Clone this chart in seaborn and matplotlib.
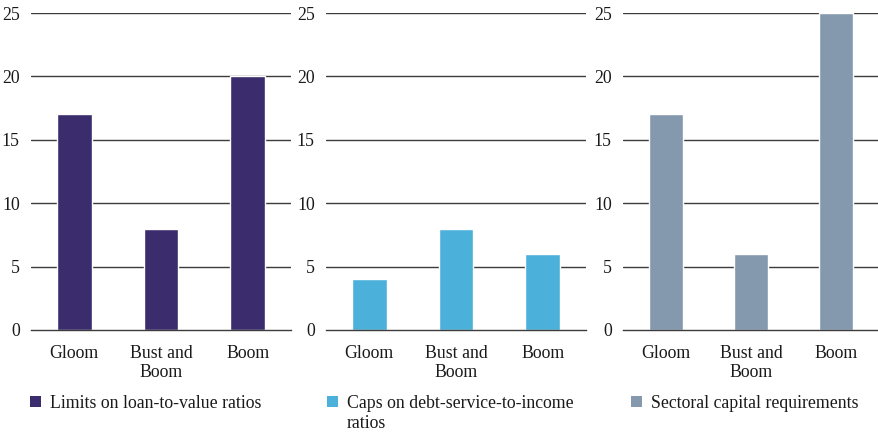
import matplotlib
matplotlib.use("Agg")
import matplotlib.pyplot as plt
import pandas as pd
import seaborn as sns
from matplotlib.patches import Patch

# Data
categories = ["Gloom", "Bust and\nBoom", "Boom"]
ltv_limits = [17, 8, 20]
dsti_caps = [4, 8, 6]
capital_req = [17, 6, 25]
series_names = ["Limits on loan-to-value ratios",
                "Caps on debt-service-to-income",
                "Sectoral capital requirements"]
name_extra = ["", "ratios", ""]
colors = ["#3a2c6d", "#4bb0da", "#8599ae"]

sns.set_style("white")
serif = "Liberation Serif"
plt.rcParams["font.family"] = serif

fs = 12.8

fig = plt.figure(figsize=(8.79, 4.33), dpi=100)
lefts = [31, 326, 623]
widths = [260, 260, 256]
leg_dx = [-1, 1, 8]  # legend offset from axes left, px
bottom = 1 - 330 / 433
height = (330 - 13) / 433

for i, vals in enumerate([ltv_limits, dsti_caps, capital_req]):
    ax = fig.add_axes([lefts[i] / 879, bottom, widths[i] / 879, height])
    df = pd.DataFrame({"cat": categories, "value": vals})
    sns.barplot(data=df, x="cat", y="value", ax=ax, color=colors[i],
                width=0.4, saturation=1, zorder=3)
    ax.set_xlim(-0.5, 2.5)
    ax.set_ylim(0, 25)
    ax.set_yticks([0, 5, 10, 15, 20, 25])
    ax.set_yticklabels(["0", "5", "10", "15", "20", "25"])
    ax.set_xticks([0, 1, 2])
    ax.set_xticklabels(categories)
    ax.set_xlabel("")
    ax.set_ylabel("")
    for y in [5, 10, 15, 20, 25]:
        ax.axhline(y, color="#3c3c3c", linewidth=1.0, zorder=1)
    for s in ["top", "right", "left"]:
        ax.spines[s].set_visible(False)
    ax.spines["bottom"].set_color("#3c3c3c")
    ax.spines["bottom"].set_linewidth(1.0)
    ax.spines["bottom"].set_zorder(4)
    ax.set_xticks([-0.5, 0.5, 1.5, 2.5], minor=True)
    ax.tick_params(axis="x", which="minor", length=5, width=1,
                   color="#3c3c3c", direction="out")
    ax.tick_params(axis="x", which="major", length=0, pad=11)
    ax.tick_params(axis="y", length=0, pad=8)
    for lab in ax.get_xticklabels() + ax.get_yticklabels():
        lab.set_fontfamily(serif)
        lab.set_fontsize(fs)
        lab.set_color("#1a1a1a")
        lab.set_linespacing(1.15)
    ax.set_facecolor("none")
    leg = ax.legend(handles=[Patch(facecolor=colors[i], edgecolor="none",
                                   label=series_names[i])],
                    loc="upper left",
                    bbox_to_anchor=(leg_dx[i] / widths[i], -0.205),
                    frameon=False, prop={"family": serif, "size": fs},
                    handlelength=0.6, handleheight=0.6, handletextpad=0.5,
                    borderaxespad=0, borderpad=0)
    for t in leg.get_texts():
        t.set_color("#1a1a1a")
    if name_extra[i]:
        # second line of the wrapped legend label
        ax.text((leg_dx[i] + 20) / widths[i], (330 - 423) / 317,
                name_extra[i], transform=ax.transAxes, ha="left",
                va="center", fontsize=fs, family=serif, color="#1a1a1a")

fig.savefig("out.png", dpi=100)
